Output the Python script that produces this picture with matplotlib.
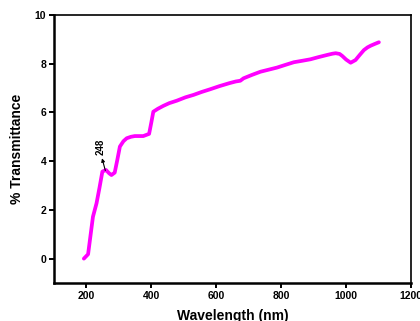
import matplotlib
matplotlib.use("Agg")
import matplotlib.pyplot as plt

# UV-Vis transmittance spectrum
wavelength = [192, 205, 212, 220, 231, 240, 249, 260, 270, 277, 287, 295,
              303, 314, 324, 337, 349, 362, 375, 393, 400, 406, 420, 437,
              455, 478, 505, 530, 555, 581, 610, 640, 660, 674, 684, 710,
              736, 760, 787, 815, 839, 865, 890, 915, 942, 958, 968, 980,
              988, 1000, 1014, 1029, 1042, 1055, 1066, 1076, 1090, 1101]
transmittance = [0.0, 0.18, 0.9, 1.72, 2.27, 2.9, 3.57, 3.64, 3.5, 3.43, 3.53, 4.05,
                 4.6, 4.82, 4.94, 5.0, 5.03, 5.03, 5.03, 5.12, 5.6, 6.03, 6.15, 6.27,
                 6.38, 6.48, 6.62, 6.72, 6.84, 6.95, 7.08, 7.2, 7.27, 7.3, 7.4, 7.54,
                 7.67, 7.75, 7.84, 7.96, 8.06, 8.12, 8.18, 8.27, 8.36, 8.41, 8.43, 8.4,
                 8.32, 8.17, 8.04, 8.15, 8.36, 8.56, 8.67, 8.74, 8.82, 8.88]

peak_label = "248"
peak_tail = (258, 3.62)
peak_head = (248, 4.12)
peak_text_xy = (244, 4.6)

xticks = [200, 400, 600, 800, 1000, 1200]
yticks = [0, 2, 4, 6, 8, 10]

plt.rcParams["font.family"] = ["Liberation Sans", "DejaVu Sans"]

fig = plt.figure(figsize=(4.2, 3.21), dpi=100)
ax = fig.add_axes([0.1286, 0.1184, 0.85, 0.835])

ax.plot(wavelength, transmittance, color="#FF00FF", linewidth=2.7,
        solid_capstyle="round", solid_joinstyle="round")

# small arrow from the curve up to the peak label
ax.annotate("", xy=peak_head, xytext=peak_tail,
            arrowprops=dict(arrowstyle="-|>", color="black", lw=0.8,
                            mutation_scale=5, shrinkA=0, shrinkB=0))
ax.text(peak_text_xy[0], peak_text_xy[1], peak_label, rotation=90,
        ha="center", va="center", fontsize=7, fontweight="bold")

ax.set_xlim(100, 1200)
ax.set_ylim(-1, 10)
ax.set_xticks(xticks)
ax.set_yticks(yticks)

for side in ["left", "bottom"]:
    ax.spines[side].set_linewidth(1.8)
for side in ["top", "right"]:
    ax.spines[side].set_linewidth(1.2)

ax.tick_params(direction="out", length=3.5, width=1.4, pad=2,
               labelsize=7.5)
for lbl in ax.get_xticklabels() + ax.get_yticklabels():
    lbl.set_fontweight("bold")

ax.set_xlabel("Wavelength (nm)", fontsize=10, fontweight="bold", labelpad=6)
ax.set_ylabel("% Transmittance", fontsize=10, fontweight="bold", labelpad=8)

fig.savefig("out.png", dpi=100)
plt.close(fig)
